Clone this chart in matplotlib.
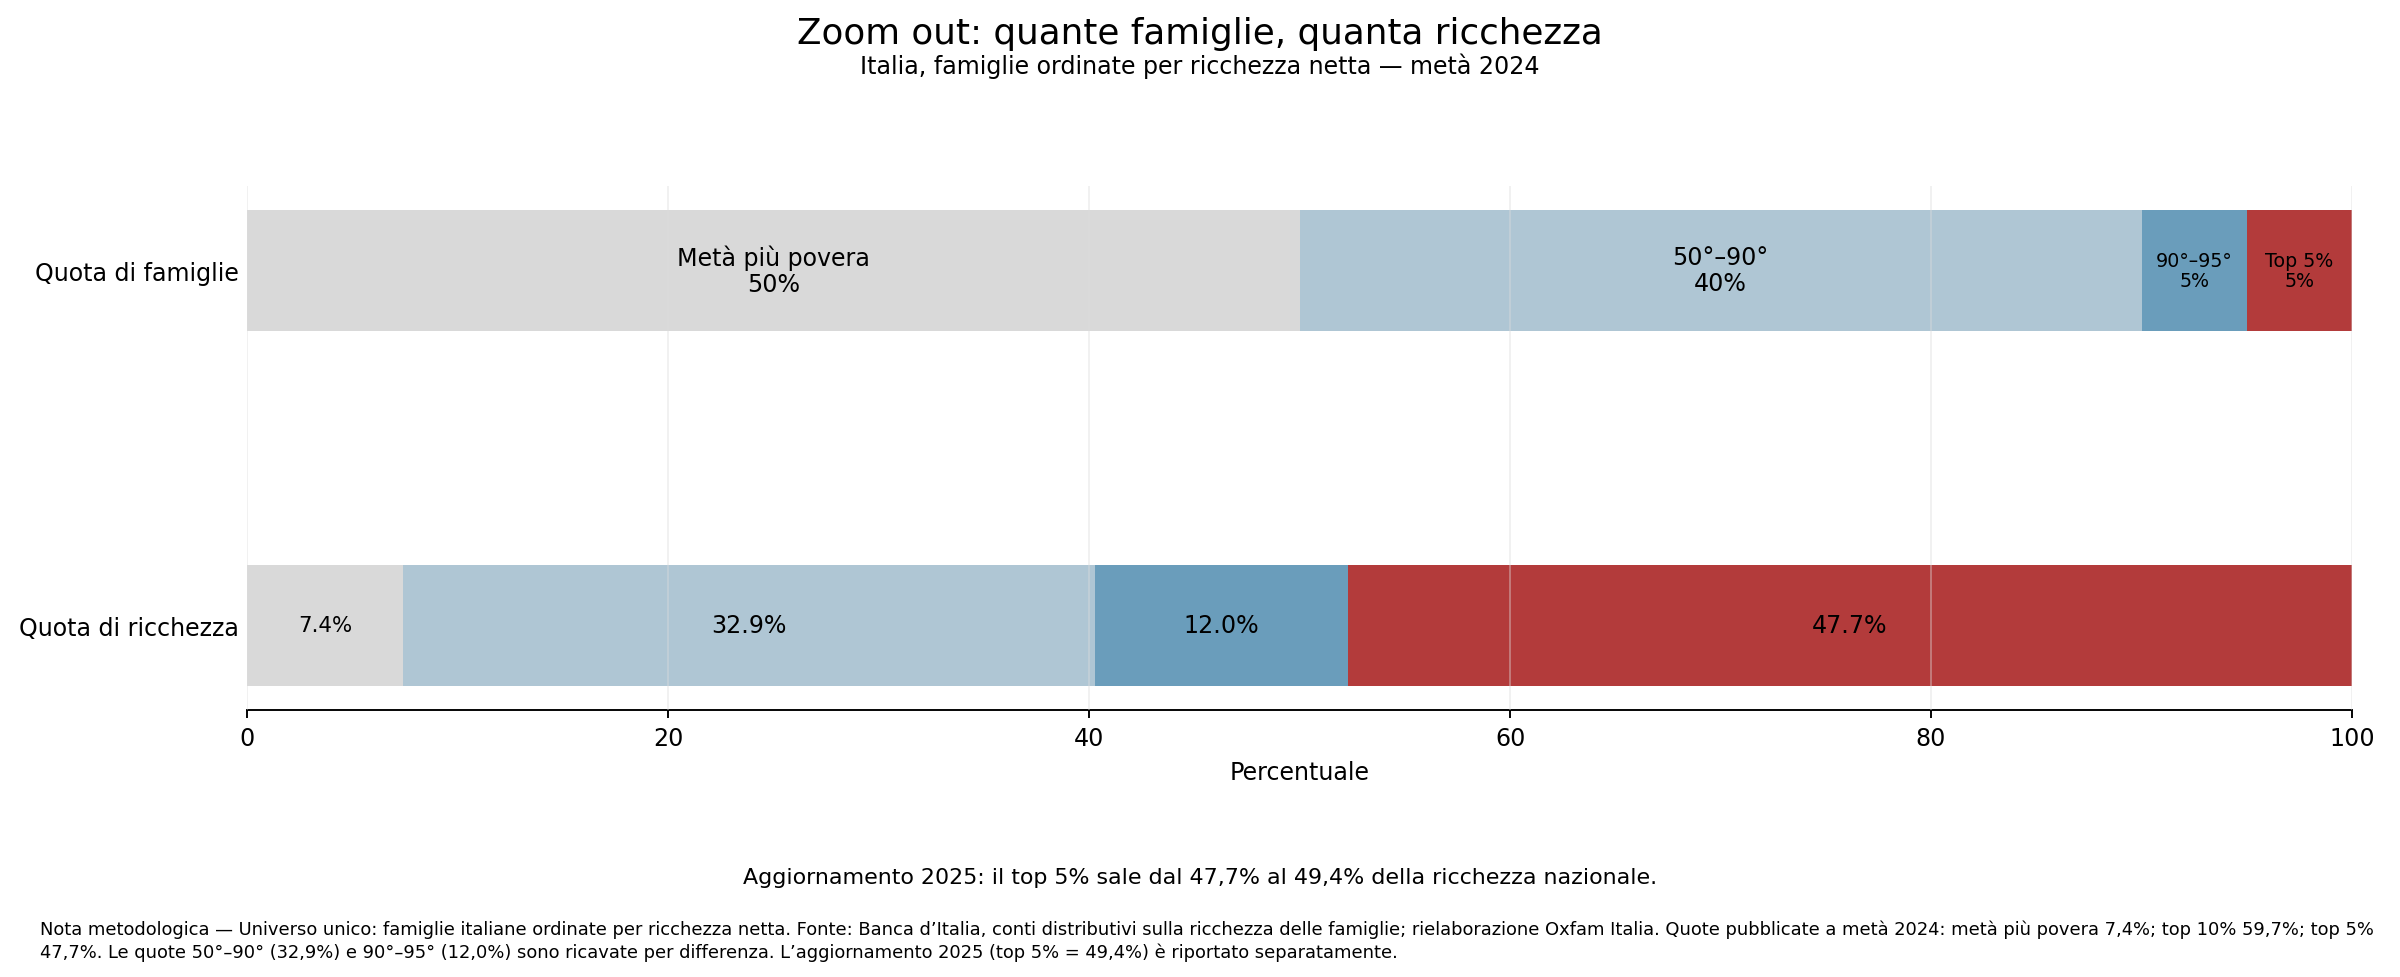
import matplotlib
matplotlib.use("Agg")
import matplotlib.pyplot as plt

# Data
rows = ["Quota di ricchezza", "Quota di famiglie"]
groups = ["Metà più povera", "50°–90°", "90°–95°", "Top 5%"]
colors = ["#d5d5d5", "#a7c0d0", "#5a92b4", "#ab2626"]
famiglie = [50, 40, 5, 5]
ricchezza = [7.4, 32.9, 12.0, 47.7]

fig = plt.figure(figsize=(14, 5.705), dpi=2400 / 14)
ax = fig.add_axes([0.103, 0.2735, 0.877, 0.535])

left_f = 0
left_r = 0
for i in range(len(groups)):
    ax.barh(1, famiglie[i], left=left_f, height=0.34, color=colors[i], alpha=0.9, linewidth=0.8)
    ax.barh(0, ricchezza[i], left=left_r, height=0.34, color=colors[i], alpha=0.9, linewidth=0.8)

    # labels on household bar
    fs = 8 if famiglie[i] < 8 else 10
    ax.text(left_f + famiglie[i] / 2, 1, f"{groups[i]}\n{famiglie[i]}%", ha="center", va="center",
            fontsize=fs, linespacing=1.1)
    # labels on wealth bar
    fs = 9 if ricchezza[i] < 10 else 10
    ax.text(left_r + ricchezza[i] / 2, 0, f"{ricchezza[i]:.1f}%", ha="center", va="center", fontsize=fs)

    left_f += famiglie[i]
    left_r += ricchezza[i]

ax.set_xlim(0, 100)
ax.set_yticks([0, 1])
ax.set_yticklabels(rows, fontsize=10)
ax.tick_params(axis="y", length=0)
ax.tick_params(axis="x", labelsize=10)
ax.set_xlabel("Percentuale", fontsize=10)
for s in ["top", "right", "left"]:
    ax.spines[s].set_visible(False)
ax.set_axisbelow(False)
ax.grid(axis="x", color="#dddddd", alpha=0.4, linewidth=0.8)

fig.suptitle("Zoom out: quante famiglie, quanta ricchezza", y=0.983, fontsize=15)
fig.text(0.5, 0.932, "Italia, famiglie ordinate per ricchezza netta — metà 2024", ha="center", va="center", fontsize=10)

fig.text(0.5, 0.102, "Aggiornamento 2025: il top 5% sale dal 47,7% al 49,4% della ricchezza nazionale.",
         ha="center", va="center", fontsize=9.3)
note = ("Nota metodologica — Universo unico: famiglie italiane ordinate per ricchezza netta. Fonte: Banca d’Italia, "
        "conti distributivi sulla ricchezza delle famiglie; rielaborazione Oxfam Italia. Quote pubblicate a metà 2024: "
        "metà più povera 7,4%; top 10% 59,7%; top 5%\n47,7%. Le quote 50°–90° (32,9%) e 90°–95° (12,0%) sono ricavate "
        "per differenza. L’aggiornamento 2025 (top 5% = 49,4%) è riportato separatamente.")
fig.text(0.0167, 0.059, note, ha="left", va="top", fontsize=7.5, linespacing=1.3)

fig.savefig("out.png", dpi=2400 / 14)
